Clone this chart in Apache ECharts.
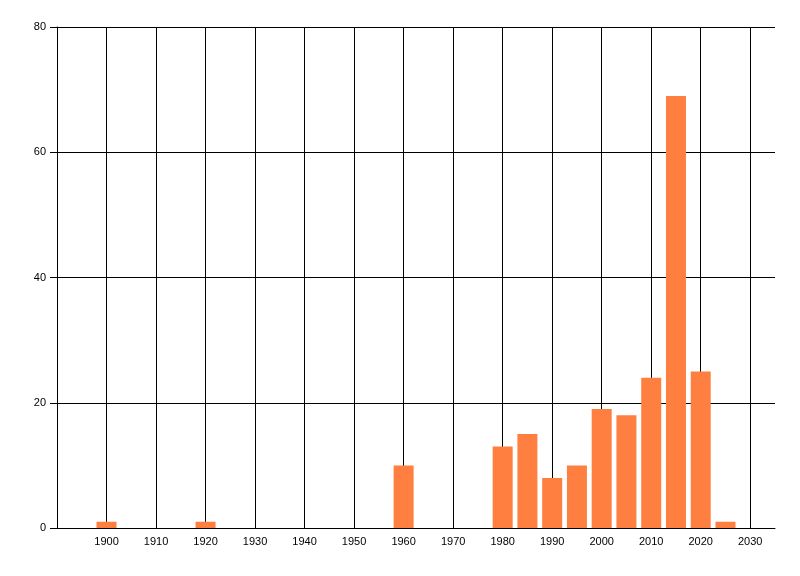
<!DOCTYPE html>
<html>
<head>
<meta charset="utf-8">
<script src="https://cdn.jsdelivr.net/npm/echarts@6/dist/echarts.min.js"></script>
<style>
html,body{margin:0;padding:0;background:#fff;}
#chart{width:800px;height:576px;}
</style>
</head>
<body>
<div id="chart"></div>
<script>
const years = [1900, 1920, 1960, 1980, 1985, 1990, 1995, 2000, 2005, 2010, 2015, 2020, 2025];
const counts = [1, 1, 10, 13, 15, 8, 10, 19, 18, 24, 69, 25, 1];
const yTicks = [0, 20, 40, 60, 80];

const chart = echarts.init(document.getElementById('chart'), null, {renderer: 'canvas'});
const font = 'Liberation Sans';
chart.setOption({
  animation: false,
  backgroundColor: '#ffffff',
  grid: {left: 57, right: 25, top: 27, bottom: 48, containLabel: false},
  xAxis: {
    type: 'value',
    min: 1890,
    max: 2035,
    interval: 10,
    axisLine: {show: true, lineStyle: {color: '#000', width: 1}},
    axisTick: {show: false},
    splitLine: {show: true, showMinLine: true, showMaxLine: false, lineStyle: {color: '#000', width: 1}},
    axisLabel: {
      color: '#000', fontFamily: font, fontSize: 11, margin: 8,
      showMinLabel: false, showMaxLabel: false,
      formatter: function (v) { return (v === 1890 || v === 2035) ? '' : String(v); }
    }
  },
  yAxis: {
    type: 'value',
    min: yTicks[0],
    max: yTicks[yTicks.length - 1],
    interval: 20,
    axisLine: {show: true, lineStyle: {color: '#000', width: 1}},
    axisTick: {show: true, length: 7, lineStyle: {color: '#000', width: 1}},
    splitLine: {show: true, lineStyle: {color: '#000', width: 1}},
    axisLabel: {color: '#000', fontFamily: font, fontSize: 11, margin: 11}
  },
  series: [{
    type: 'bar',
    data: years.map((y, i) => [y, counts[i]]),
    barWidth: 20,
    itemStyle: {color: '#ff7f40'}
  }]
});
</script>
</body>
</html>
